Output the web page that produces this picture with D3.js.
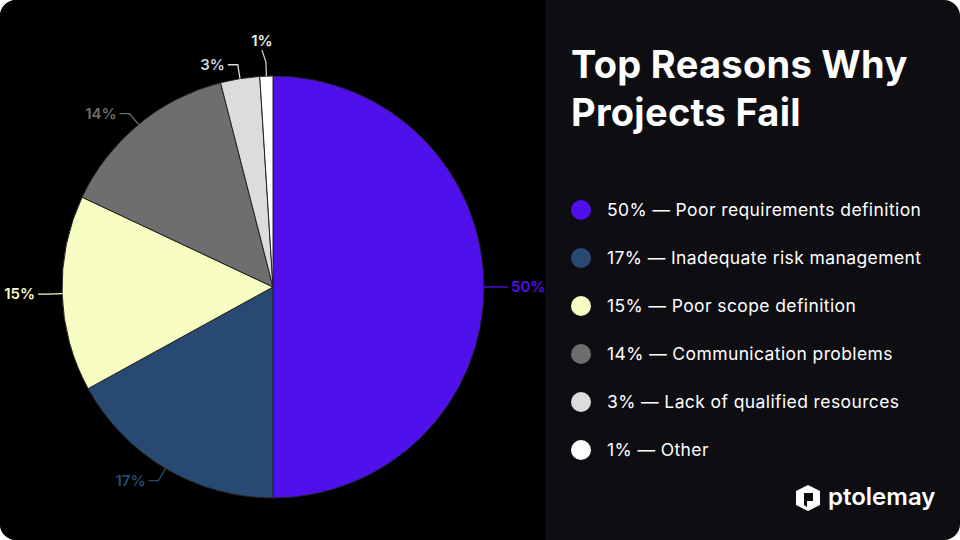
<!DOCTYPE html>
<html><head><meta charset="utf-8">
<script src="https://cdn.jsdelivr.net/npm/d3@7"></script>
<style>body{margin:0;background:#fff}svg{display:block}</style>
</head><body>
<svg id="chart" width="960" height="540"></svg>
<script>
var reasons = ["Poor requirements definition", "Inadequate risk management", "Poor scope definition",
  "Communication problems", "Lack of qualified resources", "Other"];
var shares = [50, 17, 15, 14, 3, 1];
var colors = ["#5010ec", "#284a72", "#f8fdc3", "#6e6e6e", "#dcdcdc", "#ffffff"];

var svg = d3.select("#chart");
var clip = svg.append("clipPath").attr("id", "card");
clip.append("rect").attr("width", 960).attr("height", 540).attr("rx", 16);
var card = svg.append("g").attr("clip-path", "url(#card)");
card.append("rect").attr("width", 960).attr("height", 540).attr("fill", "#0d0d12");
card.append("rect").attr("width", 545).attr("height", 540).attr("fill", "#000");

var cx = 273, cy = 287, r = 211;
var pie = d3.pie().sort(null).value(d => d)(shares);
var arc = d3.arc().innerRadius(0).outerRadius(r);
var g = svg.append("g").attr("transform", `translate(${cx},${cy})`);
g.selectAll("path").data(pie).enter().append("path")
  .attr("d", arc)
  .attr("fill", (d, i) => colors[i])
  .attr("stroke", "#222").attr("stroke-width", 1);

// labels with elbow connectors
pie.forEach(function(d, i) {
  var a = (d.startAngle + d.endAngle) / 2;
  var sx = Math.sin(a), sy = -Math.cos(a);
  var p0 = [sx * r, sy * r];
  var p1 = [sx * (r + 14), sy * (r + 14)];
  var right = sx > 0.05, up = Math.abs(sx) <= 0.05;
  var p2 = up ? [p1[0] - 4, p1[1] - 12] : [p1[0] + (right ? 10 : -10), p1[1]];
  g.append("path")
    .attr("d", d3.line()([p0, p1, p2]))
    .attr("fill", "none").attr("stroke", colors[i] === "#ffffff" ? "#ccc" : colors[i])
    .attr("stroke-width", 1.3);
  g.append("text")
    .attr("x", up ? p2[0] : p2[0] + (right ? 3 : -3))
    .attr("y", up ? p2[1] - 4 : p2[1] + 5)
    .attr("text-anchor", up ? "middle" : (right ? "start" : "end"))
    .attr("fill", i === 5 ? "#f0f0e0" : (i === 4 ? "#cfd6e0" : colors[i]))
    .attr("font-family", "Inter, sans-serif").attr("font-size", 15).attr("font-weight", 600)
    .text(shares[i] + "%");
});

// title
var title = svg.append("text").attr("fill", "#fff")
  .attr("font-family", "Inter, sans-serif").attr("font-weight", 700).attr("font-size", 38)
  .attr("letter-spacing", 0.3);
title.append("tspan").attr("x", 571).attr("y", 78).text("Top Reasons Why");
title.append("tspan").attr("x", 571).attr("y", 126).text("Projects Fail");

// legend
var legend = svg.selectAll(".leg").data(reasons).enter().append("g")
  .attr("transform", (d, i) => `translate(581,${210 + i * 48})`);
legend.append("circle").attr("r", 10).attr("fill", (d, i) => colors[i]);
legend.append("text").attr("x", 26).attr("y", 6).attr("fill", "#fff")
  .attr("font-family", "Inter, sans-serif").attr("font-size", 17.5).attr("letter-spacing", 0.4)
  .text((d, i) => shares[i] + "% — " + d);

// logo
var logo = svg.append("g").attr("transform", "translate(808,498)");
logo.append("path").attr("d", "M0,-13 L12,-7 L12,7 L0,13 L-12,7 L-12,-7 Z").attr("fill", "#fff");
logo.append("path").attr("d", "M-4,-5 L5,-5 L5,3 L-1,3 L-1,9 L-4,7 Z").attr("fill", "#0d0d12");
svg.append("text").attr("x", 828).attr("y", 505).attr("fill", "#fff")
  .attr("font-family", "Inter, sans-serif").attr("font-weight", 600).attr("font-size", 24)
  .text("ptolemay");
</script>
</body></html>
